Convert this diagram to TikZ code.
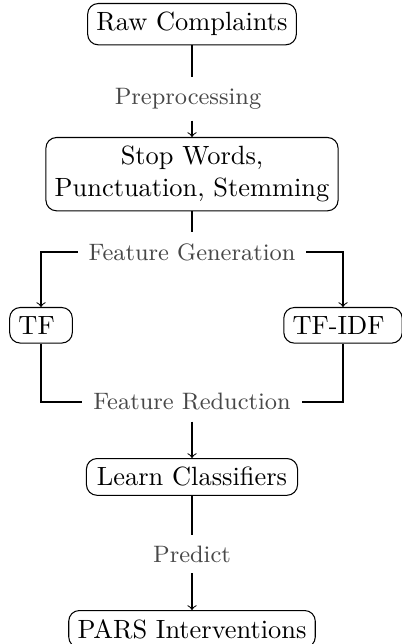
\documentclass[tikz,border=0pt]{standalone}
\begin{document}
\begin{tikzpicture}[
  x=0.379pt, y=-0.379pt,
  stage/.style={draw, rounded corners=4pt, align=center, inner sep=0.3333em},
  phase/.style={font=\small, text=black!72, inner xsep=4pt, inner ysep=4pt},
  flow/.style={->}
]
  % canvas
  \useasboundingbox (0,0) rectangle (401,644);

  % pipeline stages
  \node[stage, anchor=north] (raw)   at (192,3)   {Raw Complaints};
  \node[stage, anchor=north] (stop)  at (192,137) {Stop Words,\\Punctuation, Stemming};
  \node[stage, anchor=north] (tf)    at (41,307)  {TF\ };
  \node[stage, anchor=north] (tfidf) at (343,307) {TF-IDF\ };
  \node[stage, anchor=north, minimum width=80pt] (learn) at (192,458) {Learn Classifiers};
  \node[stage, anchor=north] (pars)  at (192,610) {PARS Interventions};

  % phase labels on the connectors
  \node[phase] (pre)  at (188,99)  {Preprocessing};
  \node[phase] (gen)  at (192,252) {Feature Generation};
  \node[phase] (red)  at (192,402) {Feature Reduction};
  \node[phase] (pred) at (192,554) {Predict};

  % connectors
  \draw (raw.south) -- (raw.south |- pre.north);
  \draw[flow] (stop.north |- pre.south) -- (stop.north);
  \draw (stop.south) -- (gen.north);
  \draw[flow] (gen.west) -| (tf.north);
  \draw[flow] (gen.east) -| (tfidf.north);
  \draw (tf.south) |- (red.west);
  \draw (tfidf.south) |- (red.east);
  \draw[flow] (red.south) -- (learn.north);
  \draw (learn.south) -- (pred.north);
  \draw[flow] (pred.south) -- (pars.north);
\end{tikzpicture}
\end{document}
